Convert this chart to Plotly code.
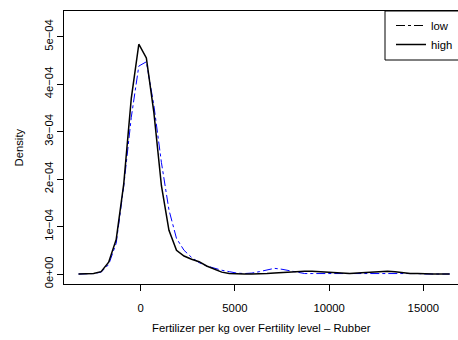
import plotly.graph_objects as go

x_grid = [-3300, -2900, -2500, -2100, -1700, -1300, -900, -500, -100, 300,
          700, 1100, 1500, 1900, 2300, 2700, 3100, 3500, 3900, 4300,
          4700, 5100, 5500, 5900, 6300, 6700, 7100, 7500, 7900, 8300,
          8700, 9100, 9500, 9900, 10300, 10700, 11100, 11500, 11900, 12300,
          12700, 13100, 13500, 13900, 14300, 14700, 15100, 15500, 15900, 16400]

# densities in units of 1e-4
high_e4 = [0.0, 0.0, 0.01, 0.05, 0.25, 0.73, 1.9, 3.7, 4.84, 4.55,
           3.4, 1.86, 0.92, 0.5, 0.38, 0.31, 0.26, 0.17, 0.1, 0.04,
           0.01, 0.0, 0.0, 0.0, 0.0, 0.01, 0.02, 0.03, 0.05, 0.06,
           0.06, 0.06, 0.05, 0.03, 0.02, 0.01, 0.01, 0.02, 0.03, 0.04,
           0.05, 0.06, 0.05, 0.03, 0.01, 0.01, 0.0, 0.0, 0.0, 0.0]
low_e4 = [0.0, 0.0, 0.01, 0.04, 0.2, 0.65, 1.85, 3.3, 4.38, 4.47,
          3.55, 2.35, 1.35, 0.75, 0.5, 0.35, 0.24, 0.17, 0.12, 0.08,
          0.05, 0.02, 0.01, 0.02, 0.05, 0.09, 0.12, 0.1, 0.07, 0.03,
          0.01, 0.01, 0.01, 0.01, 0.01, 0.01, 0.01, 0.01, 0.01, 0.02,
          0.02, 0.02, 0.02, 0.01, 0.01, 0.01, 0.0, 0.0, 0.0, 0.0]

high = [v * 1e-4 for v in high_e4]
low = [v * 1e-4 for v in low_e4]

y_ticks = [0, 1e-4, 2e-4, 3e-4, 4e-4, 5e-4]
y_tick_labels = ["0e+00", "1e\u221204", "2e\u221204", "3e\u221204", "4e\u221204", "5e\u221204"]
x_ticks = [0, 5000, 10000, 15000]
x_tick_labels = ["0", "5000", "10000", "15000"]

x_title = "Fertilizer per kg over Fertility level \u2013 Rubber"
y_title = "Density"

FONT = "Liberation Sans, Arial, Helvetica, sans-serif"
FS = 11.3

# The original plot region runs past the right edge of the 458px window.
W, H = 500, 340
L, T, B = 64, 11, 56
PW = W - L          # plot-area width in px
PH = H - T - B      # plot-area height in px


def px_x(p):
    return (p - L) / PW


def px_y(p):
    return (H - B - p) / PH


fig = go.Figure()
fig.add_trace(go.Scatter(x=x_grid, y=low, mode="lines", showlegend=False,
                         line=dict(color="blue", width=1, dash="dashdot")))
fig.add_trace(go.Scatter(x=x_grid, y=high, mode="lines", showlegend=False,
                         line=dict(color="black", width=1.5)))
# legend entries (R legend draws black line samples)
fig.add_trace(go.Scatter(x=[None], y=[None], mode="lines", name="low",
                         line=dict(color="black", width=1, dash="dashdot")))
fig.add_trace(go.Scatter(x=[None], y=[None], mode="lines", name="high",
                         line=dict(color="black", width=1.5)))

fig.update_layout(
    width=W, height=H,
    margin=dict(l=L, r=0, t=T, b=B, autoexpand=False),
    paper_bgcolor="white", plot_bgcolor="white",
    font=dict(family=FONT, size=FS, color="black"),
    showlegend=True,
    legend=dict(x=px_x(391), y=1.0, xanchor="left", yanchor="top",
                borderwidth=0, bgcolor="rgba(0,0,0,0)",
                font=dict(size=FS), tracegroupgap=0, itemwidth=30),
    xaxis=dict(range=[-4071, 19071], showgrid=False, zeroline=False,
               showline=True, linecolor="black", linewidth=1, mirror=True,
               ticks="outside", ticklen=6, tickcolor="black",
               tickvals=x_ticks, ticktext=x_tick_labels,
               ticklabelstandoff=7),
    yaxis=dict(range=[-0.21e-4, 5.54e-4], showgrid=False, zeroline=False,
               showline=True, linecolor="black", linewidth=1, mirror=False,
               ticks="outside", ticklen=6, tickcolor="black",
               tickvals=y_ticks, ticktext=y_tick_labels, tickangle=-90,
               ticklabelstandoff=-1),
    shapes=[
        # legend box (extends past the right edge, as in the reference)
        dict(type="rect", xref="paper", yref="paper",
             x0=px_x(385), x1=1.0, y0=px_y(60), y1=1.0,
             line=dict(color="black", width=1), fillcolor="white", layer="above"),
    ],
    annotations=[
        dict(text=x_title, xref="paper", yref="paper", x=px_x(261),
             y=px_y(328), xanchor="center", yanchor="middle",
             showarrow=False, font=dict(size=FS)),
        dict(text=y_title, xref="paper", yref="paper", x=px_x(18),
             y=0.5, xanchor="center", yanchor="middle", textangle=-90,
             showarrow=False, font=dict(size=FS)),
    ],
)

fig.write_html("out.html",
               post_script="document.body.style.margin='0';"
                           "document.body.style.overflow='hidden';"
                           "document.documentElement.style.overflow='hidden';")
